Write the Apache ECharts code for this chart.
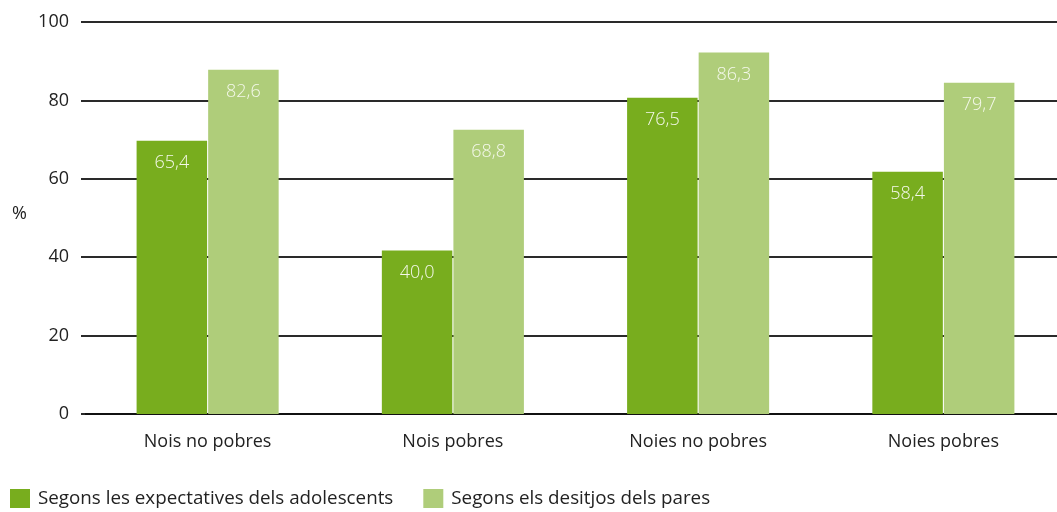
<!DOCTYPE html>
<html>
<head>
<meta charset="utf-8">
<script src="https://cdn.jsdelivr.net/npm/echarts@6/dist/echarts.min.js"></script>
<style>
html,body{margin:0;padding:0;background:#fff;overflow:hidden;}
#chart{width:1066px;height:512px;}
</style>
</head>
<body>
<div id="chart"></div>
<script>
const categories = ['Nois no pobres', 'Nois pobres', 'Noies no pobres', 'Noies pobres'];
const seriesNames = ['Segons les expectatives dels adolescents', 'Segons els desitjos dels pares'];
// bar heights as drawn in the picture
const expectativesValues = [69.7, 41.7, 80.7, 61.8];
const desitjosValues = [87.8, 72.5, 92.2, 84.5];
// value labels as printed on the bars
const expectativesLabels = ['65,4', '40,0', '76,5', '58,4'];
const desitjosLabels = ['82,6', '68,8', '86,3', '79,7'];
const yTicks = [0, 20, 40, 60, 80, 100];

const FONT = 'Open Sans';
const FW = 400;
const FS = 18;
const chart = echarts.init(document.getElementById('chart'), null, {renderer: 'canvas'});

function labelCfg(texts) {
  return {
    show: true,
    position: 'insideTop',
    distance: 13,
    color: '#f4f8ea',
    fontSize: FS,
    fontWeight: 300,
    fontFamily: FONT,
    formatter: p => texts[p.dataIndex]
  };
}

chart.setOption({
  animation: false,
  backgroundColor: '#ffffff',
  textStyle: {fontFamily: FONT},
  grid: {left: 85, top: 22, right: 0, bottom: 98, containLabel: false},
  legend: {
    left: 10, top: 489, padding: 0,
    itemWidth: 20, itemHeight: 19, itemGap: 30,
    icon: 'rect',
    textStyle: {fontSize: 18.8, fontWeight: FW, color: '#222', fontFamily: FONT, padding: [0, 0, 0, 3]},
    data: seriesNames
  },
  xAxis: {
    type: 'category',
    data: categories,
    axisLine: {show: true, lineStyle: {color: '#111', width: 2}},
    axisTick: {show: false},
    axisLabel: {fontSize: FS, fontWeight: FW, color: '#222', margin: 19, fontFamily: FONT}
  },
  yAxis: {
    type: 'value',
    min: yTicks[0], max: yTicks[yTicks.length - 1], interval: 20,
    axisLine: {show: false},
    axisTick: {show: true, length: 4, lineStyle: {color: '#2a2a2a', width: 2}},
    axisLabel: {fontSize: FS, fontWeight: FW, color: '#222', margin: 16, fontFamily: FONT},
    splitLine: {show: true, lineStyle: {color: '#2a2a2a', width: 2}}
  },
  graphic: [{
    type: 'text', left: 12, top: 205,
    style: {text: '%', fontSize: FS, fontWeight: FW, fill: '#222', fontFamily: FONT}
  }],
  series: [
    {
      name: seriesNames[0], type: 'bar', data: expectativesValues,
      barWidth: 70.5, barGap: '1.5%',
      itemStyle: {color: '#78ad1e'},
      label: labelCfg(expectativesLabels)
    },
    {
      name: seriesNames[1], type: 'bar', data: desitjosValues,
      barWidth: 70.5,
      itemStyle: {color: '#afcd7a'},
      label: labelCfg(desitjosLabels)
    }
  ]
});
</script>
</body>
</html>
